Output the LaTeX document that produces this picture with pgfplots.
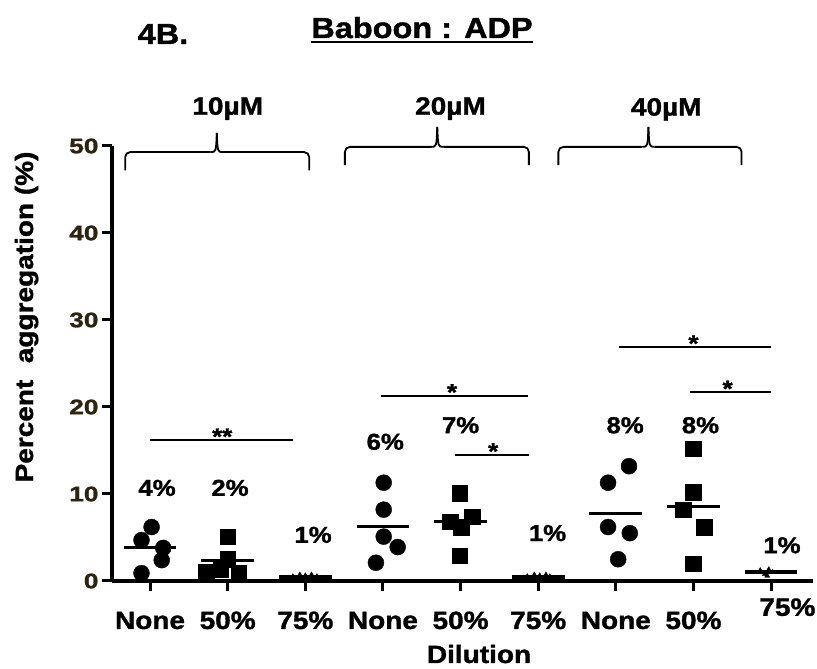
\documentclass[border=0pt]{standalone}
\usepackage{fontspec}
\setmainfont{Liberation Sans}[FakeStretch=1.12, BoldFeatures={FakeBold=1.3}]
\newfontfamily\tickfont{Liberation Sans}[FakeStretch=1.25, BoldFeatures={FakeBold=1.3}]
\usepackage{pgfplots}
\pgfplotsset{compat=1.18}
\begin{document}
\begin{tikzpicture}[x=1pt,y=1pt,
  mean/.style={black, line width=3pt},
  sig/.style={black, line width=1.8pt},
  brace/.style={black, line width=1.8pt},
  pct/.style={font=\bfseries\fontsize{23}{23}\selectfont},
  star/.style={font=\bfseries\fontsize{23}{23}\selectfont, anchor=base},
  lab/.style={font=\bfseries\fontsize{25}{25}\selectfont, anchor=base},
]
\path[use as bounding box] (0,0) rectangle (817,669);
\begin{axis}[
  at={(112pt,88pt)}, anchor=south west,
  scale only axis, width=701pt, height=435pt,
  xmin=-0.49, xmax=8.54, ymin=0, ymax=50,
  axis lines=left, axis line style={-, line width=4pt, black},
  xtick={0,...,8},
  xticklabels={None,50\%,75\%,None,50\%,75\%,None,50\%,{}},
  ytick={0,10,20,30,40,50},
  tick align=outside, major tick length=10pt,
  tick style={line width=3pt, black},
  /pgf/number format/assume math mode=true,
  yticklabel style={font=\tickfont\bfseries\fontsize{21}{21}\selectfont, text={rgb,255:red,45;green,35;blue,15}},
  xticklabel style={font=\bfseries\fontsize{25}{25}\selectfont, anchor=base, yshift=-38pt},
  clip=false,
]
% circles (None)
\addplot[only marks, mark=*, mark size=8pt, black] coordinates {
 (0.02,6.2) (-0.11,4.7) (0.17,3.8) (0.15,2.4) (-0.11,0.9)
 (3.01,11.3) (3.01,8.2) (3.01,5.1) (3.19,3.9) (2.91,2.1)
 (6.17,13.2) (5.90,11.3) (5.90,6.2) (6.18,5.5) (6.03,2.5)
};
% squares (50%)
\addplot[only marks, mark=square*, mark size=7.8pt, black] coordinates {
 (1.0,5.1) (1.0,2.5) (0.72,1.0) (0.91,1.3) (1.14,0.9)
 (3.99,10.1) (3.87,6.8) (4.15,7.4) (4.01,6.2) (3.99,2.9)
 (7.0,15.2) (7.0,10.2) (6.87,8.2) (7.14,6.2) (7.0,2.0)
};
% triangles (75%)
\addplot[only marks, mark=triangle*, mark size=3pt, black] coordinates {
 (1.84,0.5) (1.93,0.7) (2.0,0.6) (2.08,0.7) (2.15,0.5)
 (4.86,0.5) (4.95,0.7) (5.02,0.6) (5.10,0.7) (5.15,0.5)
 (7.86,1.2) (7.92,0.8) (7.97,1.3) (8.02,1.0) (7.95,0.6)
};
% mean lines
\addplot[mean] coordinates {(-0.34,3.9) (0.34,3.9)};
\addplot[mean] coordinates {(0.66,2.3) (1.34,2.3)};
\addplot[mean, line width=5pt] coordinates {(1.66,0.4) (2.34,0.4)};
\addplot[mean] coordinates {(2.66,6.3) (3.34,6.3)};
\addplot[mean] coordinates {(3.66,6.8) (4.34,6.8)};
\addplot[mean, line width=5pt] coordinates {(4.66,0.4) (5.34,0.4)};
\addplot[mean] coordinates {(5.66,7.8) (6.34,7.8)};
\addplot[mean] coordinates {(6.66,8.6) (7.34,8.6)};
\addplot[mean, line width=4pt] coordinates {(7.66,1.0) (8.34,1.0)};
% significance bars
\draw[sig] (axis cs:0,16.2) -- (axis cs:1.84,16.2);
\node[star] at (axis cs:0.93,15.7) {**};
\draw[sig] (axis cs:2.98,21.3) -- (axis cs:4.87,21.3);
\node[star] at (axis cs:3.89,20.8) {*};
\draw[sig] (axis cs:3.93,14.5) -- (axis cs:4.88,14.5);
\node[star] at (axis cs:4.42,14.0) {*};
\draw[sig] (axis cs:6.04,26.9) -- (axis cs:8.0,26.9);
\node[star] at (axis cs:7.0,26.4) {*};
\draw[sig] (axis cs:6.96,21.7) -- (axis cs:8.0,21.7);
\node[star] at (axis cs:7.44,21.2) {*};
% percent labels
\node[pct] at (axis cs:0.09,10.7) {4\%};
\node[pct] at (axis cs:1.03,10.7) {2\%};
\node[pct] at (axis cs:2.10,5.3) {1\%};
\node[pct] at (axis cs:3.03,16.0) {6\%};
\node[pct] at (axis cs:4.00,17.9) {7\%};
\node[pct] at (axis cs:5.12,5.5) {1\%};
\node[pct] at (axis cs:6.12,17.9) {8\%};
\node[pct] at (axis cs:7.09,17.9) {8\%};
\node[pct] at (axis cs:8.14,4.1) {1\%};
% last tick label
\node[lab] at (axis cs:8.21,-4.0) {75\%};
% braces
\draw[brace, rounded corners=5pt] (axis cs:-0.32,47.2) |- (axis cs:0.78,49.3);
\draw[brace] (axis cs:0.78,49.3) .. controls (axis cs:0.85,49.3) .. (axis cs:0.86,51.5);
\draw[brace, rounded corners=5pt] (axis cs:2.05,47.2) |- (axis cs:0.94,49.3);
\draw[brace] (axis cs:0.94,49.3) .. controls (axis cs:0.87,49.3) .. (axis cs:0.86,51.5);
\draw[brace, rounded corners=5pt] (axis cs:2.51,47.8) |- (axis cs:3.62,49.9);
\draw[brace] (axis cs:3.62,49.9) .. controls (axis cs:3.69,49.9) .. (axis cs:3.70,52.2);
\draw[brace, rounded corners=5pt] (axis cs:4.88,47.8) |- (axis cs:3.78,49.9);
\draw[brace] (axis cs:3.78,49.9) .. controls (axis cs:3.71,49.9) .. (axis cs:3.70,52.2);
\draw[brace, rounded corners=5pt] (axis cs:5.26,47.8) |- (axis cs:6.34,49.9);
\draw[brace] (axis cs:6.34,49.9) .. controls (axis cs:6.41,49.9) .. (axis cs:6.42,52.2);
\draw[brace, rounded corners=5pt] (axis cs:7.62,47.8) |- (axis cs:6.50,49.9);
\draw[brace] (axis cs:6.50,49.9) .. controls (axis cs:6.43,49.9) .. (axis cs:6.42,52.2);
\node[lab] at (axis cs:1.0,53.6) {10µM};
\node[lab] at (axis cs:3.87,53.6) {20µM};
\node[lab] at (axis cs:6.65,53.5) {40µM};
\end{axis}
% title
\node[font=\bfseries\fontsize{29}{29}\selectfont, anchor=base, inner sep=0pt] (t) at (422,631) {Baboon : ADP};
\draw[line width=2.5pt] ([yshift=-4pt]t.base west) -- ([yshift=-4pt]t.base east);
\node[font=\bfseries\fontsize{29}{29}\selectfont, anchor=base] at (163,625) {4B.};
\node[lab, rotate=90] at (33,352) {Percent\hspace{0.35em} aggregation (\%)};
\node[lab] at (479,6) {Dilution};
\end{tikzpicture}
\end{document}
